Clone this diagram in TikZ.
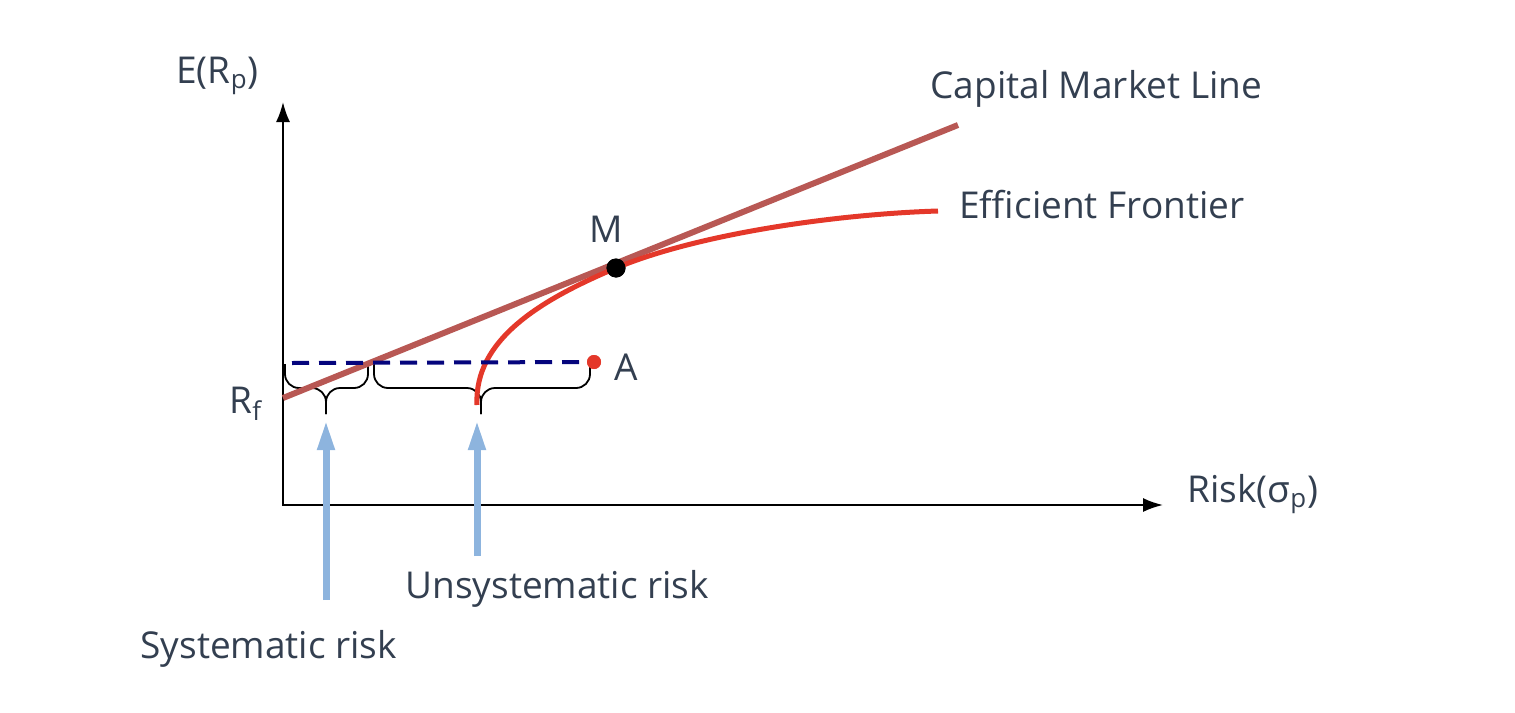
\documentclass[tikz,border=0pt]{standalone}
\usepackage{fontspec}
\setmainfont{Open Sans}
\usetikzlibrary{arrows.meta}
\definecolor{labelgray}{RGB}{51,63,80}
\definecolor{cmlbrown}{RGB}{184,88,84}
\definecolor{frontierred}{RGB}{228,56,42}
\definecolor{dashnavy}{RGB}{5,5,125}
\definecolor{riskblue}{RGB}{141,180,222}

\begin{document}
\begin{tikzpicture}[x=0.5pt,y=-0.5pt,>={Latex[length=10pt,width=7pt]},
  axis line/.style={<->,line width=1pt},
  label text/.style={text=labelgray,font=\fontsize{18.5}{22}\selectfont,inner sep=0pt},
  cml line/.style={draw=cmlbrown,line width=3pt},
  frontier line/.style={draw=frontierred,line width=2.5pt},
  dashed line/.style={draw=dashnavy,line width=2pt,dash pattern=on 8.5pt off 5pt},
  point dot/.style={circle,inner sep=0pt},
  risk brace/.style={line width=0.9pt,rounded corners=7pt},
  risk arrow/.style={-{Triangle[length=15pt,width=8pt]},draw=riskblue,line width=3.5pt}]
    \useasboundingbox (0,0) rectangle (1515,712);
    % axes
    \coordinate (O) at (283,505);
    \coordinate (ytop) at (283,102);
    \coordinate (xend) at (1163,505);
    \draw[axis line] (ytop) -- (O) -- (xend);
    \node[label text,anchor=base west] (ER) at (176,83) {E(R\textsubscript{p})};
    \node[label text,anchor=base west] (risk) at (1187,502) {Risk(σ\textsubscript{p})};
    \node[label text,anchor=base west] (Rf) at (229,413) {R\textsubscript{f}};
    % braces
    \coordinate (b1l) at (285,364);
    \coordinate (b1r) at (368,364);
    \coordinate (b1mid) at (326,388);
    \coordinate (b1tip) at (326,414);
    \coordinate (b2l) at (374,364);
    \coordinate (b2r) at (590,364);
    \coordinate (b2mid) at (481,388);
    \coordinate (b2tip) at (481,414);
    \draw[risk brace] (b1l) |- (b1mid) -- (b1tip);
    \draw[risk brace] (b1r) |- (b1mid) -- (b1tip);
    \draw[risk brace] (b2l) |- (b2mid) -- (b2tip);
    \draw[risk brace] (b2r) |- (b2mid) -- (b2tip);
    % capital market line
    \coordinate (cmlstart) at (283,398);
    \coordinate (cmlend) at (958,125);
    \draw[cml line] (cmlstart) -- (cmlend);
    \node[label text,anchor=base west] (cml) at (930,98) {Capital Market Line};
    % efficient frontier
    \node[point dot,fill=black,minimum size=9.5pt] (M) at (616,268) {};
    \coordinate (efstart) at (477,405);
    \coordinate (efend) at (938,211);
    \draw[frontier line] (efstart) .. controls (474,340) and (540,300) .. (M.center)
          .. controls (700,233) and (840,214) .. (efend);
    \fill (M) circle (4.75pt);
    \node[label text,anchor=base] (Mlabel) at (606,242) {M};
    \node[label text,anchor=base west] (ef) at (959,218) {Efficient Frontier};
    % portfolio A
    \coordinate (dashstart) at (292,363);
    \node[point dot,fill=frontierred,minimum size=7pt] (A) at (594,362) {};
    \draw[dashed line] (dashstart) -- (A.center);
    \fill[frontierred] (A) circle (3.5pt);
    \node[label text,anchor=base west] (Alabel) at (614,380) {A};
    % risk arrows
    \coordinate (sysbase) at (326,600);
    \coordinate (systip) at (326,420);
    \coordinate (unsysbase) at (477,556);
    \coordinate (unsystip) at (477,420);
    \draw[risk arrow] (sysbase) -- (systip);
    \draw[risk arrow] (unsysbase) -- (unsystip);
    \node[label text,anchor=base west] (unsys) at (405,598) {Unsystematic risk};
    \node[label text,anchor=base west] (sys) at (140,658) {Systematic risk};

\end{tikzpicture}
\end{document}
